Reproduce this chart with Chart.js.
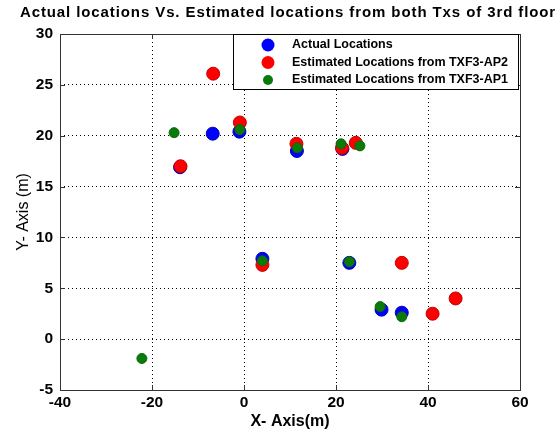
<!DOCTYPE html>
<html>
<head>
<meta charset="utf-8">
<script src="https://cdn.jsdelivr.net/npm/chart.js@4.4.0/dist/chart.umd.min.js"></script>
<style>
  html, body { margin: 0; padding: 0; background: #fff; }
  #wrap { width: 560px; height: 432px; position: relative; }
</style>
</head>
<body>
<div id="wrap"><canvas id="locChart"></canvas></div>
<script>
// values
const titleText = 'Actual locations Vs. Estimated locations from both Txs of 3rd floor';
const seriesNames = ['Actual Locations', 'Estimated Locations from TXF3-AP2', 'Estimated Locations from TXF3-AP1'];
const xTicks = [-40, -20, 0, 20, 40, 60];
const yTicks = [-5, 0, 5, 10, 15, 20, 25, 30];

const actualX = [-6.8, -1.0, -13.9, 11.5, 21.4, 4.0, 22.9, 29.9, 34.3];
const actualY = [20.2, 20.4, 16.9, 18.5, 18.7, 7.9, 7.5, 2.9, 2.6];

const ap2X = [-6.7, -0.9, -13.8, 11.4, 21.3, 24.3, 4.0, 34.3, 46.0, 41.0];
const ap2Y = [26.1, 21.3, 17.0, 19.2, 18.8, 19.3, 7.3, 7.5, 4.0, 2.5];

const ap1X = [-15.2, -0.9, 11.6, 21.1, 25.2, 4.0, 22.9, 29.6, 34.3, -22.2];
const ap1Y = [20.3, 20.6, 18.8, 19.2, 19.0, 7.7, 7.6, 3.2, 2.2, -1.9];

const toPts = (xs, ys) => xs.map((x, i) => ({ x: x, y: ys[i] }));

const FONT = '"Liberation Sans", Arial, sans-serif';

// title, box, inward ticks and legend drawn like matlab
const matlabFrame = {
    id: 'matlabFrame',
    afterDraw(chart) {
        const c = chart.ctx;
        const a = chart.chartArea;
        const xs = chart.scales.x, ys = chart.scales.y;
        c.save();
        c.fillStyle = '#000';
        c.font = 'bold 15px ' + FONT;
        c.letterSpacing = '0.9px';
        c.textAlign = 'center';
        c.textBaseline = 'middle';
        c.fillText(titleText, 288, 13);
        c.letterSpacing = '0px';

        c.strokeStyle = '#333';
        c.lineWidth = 1;
        c.strokeRect(a.left + 0.5, a.top + 0.5, a.right - a.left, a.bottom - a.top);
        c.beginPath();
        xTicks.forEach(v => {
            const px = Math.round(xs.getPixelForValue(v)) + 0.5;
            c.moveTo(px, a.bottom); c.lineTo(px, a.bottom - 5);
            c.moveTo(px, a.top); c.lineTo(px, a.top + 5);
        });
        yTicks.forEach(v => {
            const py = Math.round(ys.getPixelForValue(v)) + 0.5;
            c.moveTo(a.left, py); c.lineTo(a.left + 5, py);
            c.moveTo(a.right, py); c.lineTo(a.right - 5, py);
        });
        c.stroke();

        // legend box
        const lx = 233, ly = a.top, lw = 285, lh = 55;
        c.fillStyle = '#fff';
        c.fillRect(lx, ly, lw, lh);
        c.strokeStyle = '#000';
        c.strokeRect(lx + 0.5, ly + 0.5, lw, lh);
        c.font = 'bold 12.5px ' + FONT;
        c.textAlign = 'left';
        chart.data.datasets.forEach((ds, i) => {
            const cy = ly + 11 + i * 17.5;
            c.beginPath();
            c.arc(lx + 35, cy, ds.pointRadius, 0, Math.PI * 2);
            c.fillStyle = ds.backgroundColor;
            c.fill();
            c.fillStyle = '#000';
            c.fillText(ds.label, lx + 59, cy);
        });
        c.restore();
    }
};

const gridStyle = {
    color: '#000',
    lineWidth: 1,
    tickLength: 0,
    drawTicks: false
};

new Chart(document.getElementById('locChart'), {
    type: 'scatter',
    data: {
        datasets: [
            {
                label: seriesNames[0],
                data: toPts(actualX, actualY),
                backgroundColor: '#0000ff',
                borderColor: '#0000b0',
                borderWidth: 1,
                pointRadius: 6.5,
                order: 3
            },
            {
                label: seriesNames[1],
                data: toPts(ap2X, ap2Y),
                backgroundColor: '#ff0000',
                borderColor: '#c00000',
                borderWidth: 1,
                pointRadius: 6.5,
                order: 2
            },
            {
                label: seriesNames[2],
                data: toPts(ap1X, ap1Y),
                backgroundColor: '#0a7a0a',
                borderColor: '#0a6a0a',
                borderWidth: 1,
                pointRadius: 5,
                order: 1
            }
        ]
    },
    options: {
        responsive: true,
        maintainAspectRatio: false,
        animation: false,
        layout: { padding: { top: 34, right: 40, left: 0, bottom: 0 } },
        plugins: {
            legend: { display: false },
            title: { display: false },
            tooltip: { enabled: false }
        },
        scales: {
            x: {
                type: 'linear',
                min: -40,
                max: 60,
                afterBuildTicks: s => { s.ticks = xTicks.map(v => ({ value: v })); },
                afterFit: s => { s.height = 42; },
                grid: Object.assign({}, gridStyle),
                border: { display: false, dash: [1, 3] },
                ticks: {
                    color: '#000',
                    padding: 3,
                    maxRotation: 0,
                    font: { family: FONT, size: 15.5, weight: 'bold' }
                },
                title: {
                    display: true,
                    text: 'X- Axis(m)',
                    color: '#000',
                    padding: { top: 0, bottom: 1 },
                    font: { family: FONT, size: 16, weight: 'bold' }
                }
            },
            y: {
                type: 'linear',
                min: -5,
                max: 30,
                afterBuildTicks: s => { s.ticks = yTicks.map(v => ({ value: v })); },
                afterFit: s => { s.width = 60; },
                grid: Object.assign({}, gridStyle),
                border: { display: false, dash: [1, 3] },
                ticks: {
                    color: '#000',
                    padding: 7,
                    font: { family: FONT, size: 15.5, weight: 'bold' }
                },
                title: {
                    display: true,
                    text: 'Y- Axis (m)',
                    color: '#000',
                    padding: { top: 14, bottom: 0 },
                    font: { family: FONT, size: 16, weight: 'normal' }
                }
            }
        }
    },
    plugins: [matlabFrame]
});
</script>
</body>
</html>
